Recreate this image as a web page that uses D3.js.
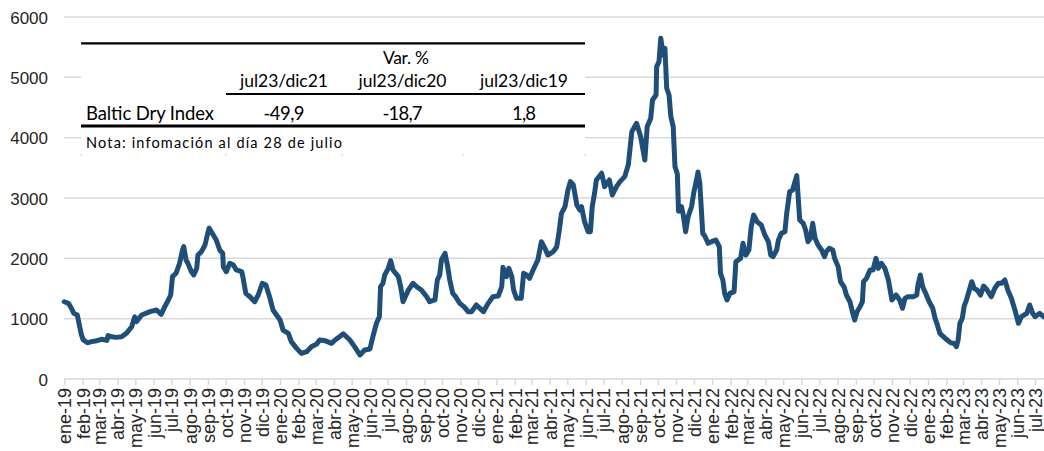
<!DOCTYPE html>
<html>
<head>
<meta charset="utf-8">
<script src="https://cdn.jsdelivr.net/npm/d3@7"></script>
<style>
  html, body { margin: 0; padding: 0; background: #ffffff; }
  svg { display: block; }
</style>
</head>
<body>
<svg id="chart" width="1044" height="451"></svg>
<script>
// ---------------- DATA ----------------
const dates = [
  "2019-01-01","2019-01-08","2019-01-13","2019-01-17","2019-01-23","2019-01-27","2019-01-30","2019-02-02","2019-02-09","2019-02-16",
  "2019-02-25","2019-03-05","2019-03-14","2019-03-16","2019-03-22","2019-03-30","2019-04-08","2019-04-16","2019-04-25","2019-04-30",
  "2019-05-03","2019-05-12","2019-05-26","2019-06-06","2019-06-14","2019-06-20","2019-06-26","2019-06-30","2019-07-03","2019-07-09",
  "2019-07-15","2019-07-20","2019-07-22","2019-07-26","2019-07-29","2019-08-04","2019-08-08","2019-08-13","2019-08-15","2019-08-21",
  "2019-08-27","2019-08-31","2019-09-03","2019-09-10","2019-09-15","2019-09-21","2019-09-26","2019-09-27","2019-10-02","2019-10-08",
  "2019-10-14","2019-10-19","2019-10-28","2019-10-30","2019-11-04","2019-11-11","2019-11-19","2019-11-25","2019-12-02","2019-12-08",
  "2019-12-15","2019-12-20","2019-12-26",
  "2020-01-01","2020-01-06","2020-01-15","2020-01-20","2020-01-29","2020-02-06","2020-02-15","2020-02-23","2020-03-03","2020-03-08",
  "2020-03-17","2020-03-28","2020-04-03","2020-04-11","2020-04-17","2020-04-28","2020-05-06","2020-05-15","2020-05-23","2020-06-01",
  "2020-06-06","2020-06-12","2020-06-17","2020-06-19","2020-06-23","2020-06-26","2020-07-02","2020-07-06","2020-07-10","2020-07-19",
  "2020-07-23","2020-07-27","2020-08-05","2020-08-13","2020-08-19","2020-08-27","2020-09-05","2020-09-10","2020-09-19","2020-09-23",
  "2020-09-27","2020-09-30","2020-10-06","2020-10-10","2020-10-14","2020-10-19","2020-10-24","2020-10-31","2020-11-07","2020-11-14",
  "2020-11-20","2020-11-28","2020-12-04","2020-12-10","2020-12-18","2020-12-26",
  "2021-01-04","2021-01-10","2021-01-12","2021-01-18","2021-01-22","2021-01-27","2021-01-30","2021-02-04","2021-02-12","2021-02-16",
  "2021-02-21","2021-02-26","2021-03-04","2021-03-12","2021-03-18","2021-03-24","2021-03-29","2021-04-07","2021-04-13","2021-04-17",
  "2021-04-21","2021-04-27","2021-05-02","2021-05-06","2021-05-11","2021-05-17","2021-05-22","2021-05-25","2021-05-30","2021-06-05",
  "2021-06-09","2021-06-12","2021-06-16","2021-06-19","2021-06-28","2021-07-03","2021-07-11","2021-07-16","2021-07-23","2021-07-29",
  "2021-08-06","2021-08-12","2021-08-18","2021-08-26","2021-09-02","2021-09-09","2021-09-13","2021-09-19","2021-09-22","2021-09-28",
  "2021-09-29","2021-10-03","2021-10-06","2021-10-10","2021-10-13","2021-10-16","2021-10-20","2021-10-23","2021-10-27","2021-10-30",
  "2021-11-03","2021-11-05","2021-11-10","2021-11-13","2021-11-17","2021-11-21","2021-11-27","2021-12-01","2021-12-06","2021-12-08",
  "2021-12-11","2021-12-16","2021-12-20","2021-12-25","2021-12-31",
  "2022-01-07","2022-01-13","2022-01-15","2022-01-19","2022-01-22","2022-01-26","2022-01-31","2022-02-07","2022-02-10","2022-02-14",
  "2022-02-18","2022-02-22","2022-02-27","2022-03-04","2022-03-08","2022-03-12","2022-03-18","2022-03-25","2022-03-31","2022-04-06",
  "2022-04-10","2022-04-14","2022-04-20","2022-04-23","2022-04-28","2022-05-04","2022-05-07","2022-05-12","2022-05-17","2022-05-21",
  "2022-05-24","2022-05-26","2022-05-29","2022-06-04","2022-06-08","2022-06-12","2022-06-16","2022-06-20","2022-06-24","2022-06-29",
  "2022-07-05","2022-07-10","2022-07-13","2022-07-18","2022-07-24","2022-07-27","2022-08-02","2022-08-06","2022-08-12","2022-08-16",
  "2022-08-22","2022-08-26","2022-08-30","2022-09-03","2022-09-08","2022-09-12","2022-09-14","2022-09-19","2022-09-25","2022-09-30",
  "2022-10-05","2022-10-09","2022-10-14","2022-10-20","2022-10-26","2022-11-01","2022-11-08","2022-11-14","2022-11-19","2022-11-23",
  "2022-11-28","2022-12-07","2022-12-13","2022-12-15","2022-12-19","2022-12-23","2022-12-28",
  "2023-01-03","2023-01-09","2023-01-13","2023-01-16","2023-01-21","2023-01-27","2023-02-01","2023-02-08","2023-02-14","2023-02-18",
  "2023-02-21","2023-02-24","2023-02-28","2023-03-03","2023-03-07","2023-03-12","2023-03-16","2023-03-20","2023-03-25","2023-03-31",
  "2023-04-05","2023-04-11","2023-04-18","2023-04-24","2023-04-30","2023-05-05","2023-05-11","2023-05-16","2023-05-22","2023-05-28",
  "2023-06-03","2023-06-08","2023-06-17","2023-06-22","2023-06-27","2023-07-01","2023-07-09","2023-07-16","2023-07-21","2023-07-28"
];
const bdi = [
  1280,1255,1172,1090,1060,870,730,650,600,620,
  635,658,640,720,700,690,700,757,867,1030,
  950,1060,1116,1144,1072,1199,1310,1392,1696,1752,
  1918,2138,2193,1973,1918,1779,1724,1834,2055,2110,
  2221,2387,2500,2387,2304,2138,2083,1862,1779,1918,
  1890,1807,1779,1696,1420,1364,1281,1392,1586,1558,
  1337,1144,1061,
  978,812,757,619,508,425,453,536,580,647,
  635,591,647,702,750,647,536,398,481,497,
  702,923,1033,1530,1586,1724,1834,1961,1807,1696,
  1530,1281,1475,1586,1530,1475,1364,1281,1310,1641,
  1724,1973,2083,1890,1641,1420,1364,1254,1199,1116,
  1116,1227,1171,1116,1254,1364,
  1375,1530,1851,1696,1834,1696,1475,1337,1337,1752,
  1724,1669,1807,1973,2276,2166,2055,2110,2193,2442,
  2746,2856,3133,3271,3216,2884,2801,2856,2607,2442,
  2442,2856,3078,3299,3410,3188,3299,3050,3188,3271,
  3354,3547,4099,4238,4016,3630,4182,4321,4624,4707,
  5177,5260,5647,5371,5481,4819,4707,4348,4182,3519,
  3400,2780,2856,2718,2442,2680,2856,3100,3327,3430,
  3244,2415,2359,2249,2276,
  2304,2193,1752,1641,1420,1310,1420,1447,1944,1973,
  2000,2249,2055,2138,2525,2718,2607,2553,2387,2276,
  2055,2028,2138,2304,2415,2442,2746,3105,3133,3271,
  3370,3078,2635,2580,2470,2276,2332,2580,2332,2221,
  2138,2028,2110,2166,2138,2000,1862,1613,1530,1392,
  1281,1116,978,1116,1199,1281,1613,1669,1807,1807,
  2000,1834,1918,1834,1641,1310,1392,1310,1172,1337,
  1364,1364,1392,1558,1724,1530,1420,
  1281,1172,1006,923,757,702,658,602,591,536,
  647,923,1006,1199,1310,1475,1613,1503,1475,1392,
  1541,1475,1364,1503,1586,1586,1641,1475,1337,1144,
  923,1033,1089,1227,1089,1033,1089,1030,1060,1100
];
const yTicks = [0, 1000, 2000, 3000, 4000, 5000, 6000];
const monthAbbr = ["ene","feb","mar","abr","may","jun","jul","ago","sep","oct","nov","dic"];

const tableHeaderTitle = "Var. %";
const tableColumns = ["jul23/dic21", "jul23/dic20", "jul23/dic19"];
const tableRowLabel = "Baltic Dry Index";
const tableValues = ["-49,9", "-18,7", "1,8"];
const tableNote = "Nota: infomación al día 28 de julio";

// ---------------- CHART ----------------
const svg = d3.select("#chart");
const parse = d3.utcParse("%Y-%m-%d");
const data = dates.map((d, i) => ({ date: parse(d), value: bdi[i] }));

const x = d3.scaleUtc()
  .domain([new Date(Date.UTC(2019, 0, 1)), new Date(Date.UTC(2023, 6, 1))])
  .range([64.3, 1035]);
const y = d3.scaleLinear().domain([0, 6000]).range([379, 17]);

const axisFont = "'Liberation Sans', Arial, sans-serif";
const textColor = "#262626";
const gridColor = "#d9d9d9";

// gridlines
svg.append("g").selectAll("line").data(yTicks).join("line")
  .attr("x1", 64).attr("x2", 1044)
  .attr("y1", d => y(d)).attr("y2", d => y(d))
  .attr("stroke", gridColor).attr("stroke-width", 1.5);

// y labels
const yAxis = d3.axisLeft(y).tickValues(yTicks).tickSize(0).tickPadding(0).tickFormat(d3.format("d"));
const gy = svg.append("g").attr("transform", "translate(48,0)").call(yAxis);
gy.select(".domain").remove();
gy.selectAll("text")
  .attr("font-family", axisFont).attr("font-size", 17).attr("fill", textColor)
  .attr("dy", "0.36em");

// x axis (monthly ticks)
const monthTicks = d3.utcMonth.range(new Date(Date.UTC(2019, 0, 1)), new Date(Date.UTC(2023, 6, 2)));
const xAxis = d3.axisBottom(x).tickValues(monthTicks).tickSize(6).tickPadding(0)
  .tickFormat(d => monthAbbr[d.getUTCMonth()] + "-" + String(d.getUTCFullYear()).slice(2));
const gx = svg.append("g").attr("transform", "translate(0,379)").call(xAxis);
gx.select(".domain").remove();
gx.selectAll(".tick line").attr("stroke", gridColor).attr("stroke-width", 1.5);
gx.selectAll("text")
  .attr("font-family", axisFont).attr("font-size", 18).attr("fill", textColor)
  .attr("transform", "rotate(-90)")
  .attr("text-anchor", "end")
  .attr("x", -9).attr("y", 0).attr("dy", "0.36em");

// line
const line = d3.line().x(d => x(d.date)).y(d => y(d.value));
svg.append("path").datum(data)
  .attr("d", line)
  .attr("fill", "none")
  .attr("stroke", "#1f4e79")
  .attr("stroke-width", 5)
  .attr("stroke-linejoin", "round")
  .attr("stroke-linecap", "round");

// ---------------- TABLE OVERLAY ----------------
const tFont = "Lato, 'Open Sans', sans-serif";
const colEdges = [81, 226, 342, 463, 585];
const colCenters = [284, 402.5, 524];
const colWidths = [88, 88, 88];
const valWidths = [41, 40, 24];
const tg = svg.append("g");
tg.append("rect").attr("x", colEdges[0]).attr("y", 30).attr("width", colEdges[4] - colEdges[0]).attr("height", 126)
  .attr("fill", "#ffffff");
tg.append("line").attr("x1", colEdges[0]).attr("x2", colEdges[4]).attr("y1", 43.3).attr("y2", 43.3)
  .attr("stroke", "#000").attr("stroke-width", 2.2);
tg.append("line").attr("x1", colEdges[1]).attr("x2", colEdges[4]).attr("y1", 94).attr("y2", 94)
  .attr("stroke", "#000").attr("stroke-width", 2);
tg.append("line").attr("x1", colEdges[0]).attr("x2", colEdges[4]).attr("y1", 126).attr("y2", 126)
  .attr("stroke", "#000").attr("stroke-width", 2.8);
// faint cell border specks
tg.selectAll("line.speck").data(colEdges).join("line").attr("class", "speck")
  .attr("x1", d => d).attr("x2", d => d).attr("y1", 153.5).attr("y2", 156)
  .attr("stroke", "#d0d0d0").attr("stroke-width", 1);

tg.append("text").text(tableHeaderTitle)
  .attr("x", 406).attr("y", 64).attr("text-anchor", "middle")
  .attr("font-family", tFont).attr("font-size", 17.5).attr("fill", "#000")
  .attr("textLength", 46).attr("lengthAdjust", "spacing");
tg.selectAll("text.col").data(tableColumns).join("text").attr("class", "col")
  .text(d => d)
  .attr("x", (d, i) => colCenters[i]).attr("y", 87.3).attr("text-anchor", "middle")
  .attr("font-family", tFont).attr("font-size", 17.5).attr("fill", "#000")
  .attr("textLength", (d, i) => colWidths[i]).attr("lengthAdjust", "spacing");
tg.append("text").text(tableRowLabel)
  .attr("x", 86).attr("y", 120)
  .attr("font-family", tFont).attr("font-size", 18.5).attr("fill", "#000")
  .attr("textLength", 128).attr("lengthAdjust", "spacing");
tg.selectAll("text.val").data(tableValues).join("text").attr("class", "val")
  .text(d => d)
  .attr("x", (d, i) => colCenters[i]).attr("y", 120).attr("text-anchor", "middle")
  .attr("font-family", tFont).attr("font-size", 18.5).attr("fill", "#000")
  .attr("textLength", (d, i) => valWidths[i]).attr("lengthAdjust", "spacing");
tg.append("text").text(tableNote)
  .attr("x", 86).attr("y", 147.7)
  .attr("font-family", tFont).attr("font-size", 14.5).attr("fill", "#000")
  .attr("textLength", 256).attr("lengthAdjust", "spacing");
</script>
</body>
</html>
